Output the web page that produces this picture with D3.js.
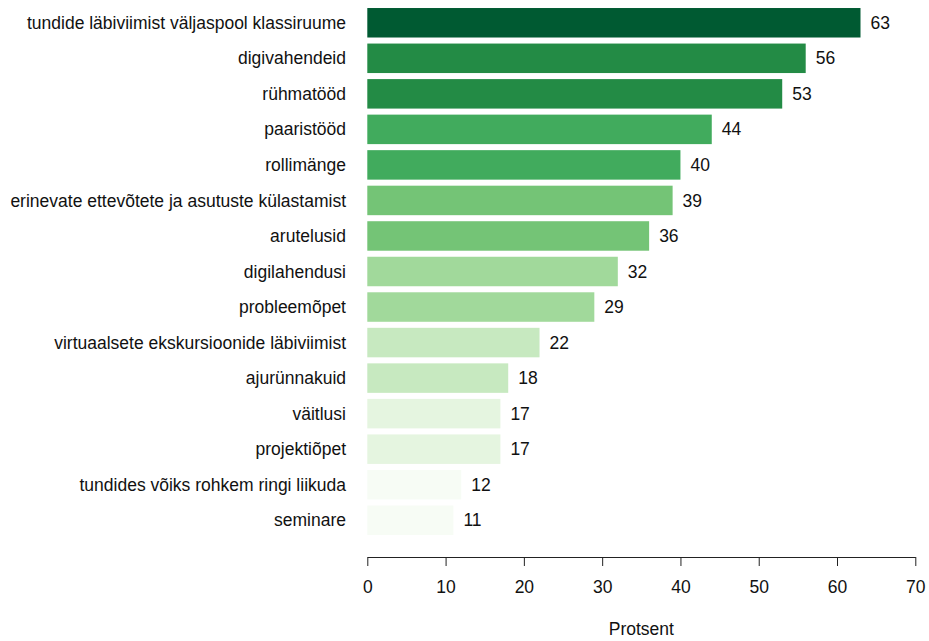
<!DOCTYPE html>
<html>
<head>
<meta charset="utf-8">
<script src="https://cdn.jsdelivr.net/npm/d3@7"></script>
<style>
  body { margin: 0; background: #fff; }
  text { font-family: "Liberation Sans", Arial, sans-serif; fill: #111; }
</style>
</head>
<body>
<svg width="929" height="641"></svg>
<script>
// data
var categories = ["tundide läbiviimist väljaspool klassiruume", "digivahendeid", "rühmatööd",
  "paaristööd", "rollimänge", "erinevate ettevõtete ja asutuste külastamist", "arutelusid",
  "digilahendusi", "probleemõpet", "virtuaalsete ekskursioonide läbiviimist", "ajurünnakuid",
  "väitlusi", "projektiõpet", "tundides võiks rohkem ringi liikuda", "seminare"];
var values = [63, 56, 53, 44, 40, 39, 36, 32, 29, 22, 18, 17, 17, 12, 11];
var xTicks = [0, 10, 20, 30, 40, 50, 60, 70];
var palette = ["#f7fcf5", "#e5f5e0", "#c7e9c0", "#a1d99b", "#74c476", "#41ab5d", "#238b45", "#005a32"];
var colourGroup = [7, 6, 6, 5, 5, 4, 4, 3, 3, 2, 2, 1, 1, 0, 0];

var data = categories.map(function(c, i) {
  return { nimi: c, v: values[i], col: palette[colourGroup[i]] };
});

var svg = d3.select("svg");
var plotLeft = 367.3, plotRight = 915.3, plotTop = 5, plotBottom = 538;
var fs = "17.5px";

var x = d3.scaleLinear().domain([0, 70]).range([plotLeft, plotRight]);
var y = d3.scaleBand().domain(categories).range([plotTop, plotBottom]).paddingInner(0.17).paddingOuter(0.085);

// bars
svg.selectAll(".bar")
  .data(data)
  .enter().append("rect")
    .attr("class", "bar")
    .attr("x", x(0))
    .attr("y", function(d) { return y(d.nimi); })
    .attr("width", function(d) { return x(d.v) - x(0); })
    .attr("height", y.bandwidth())
    .attr("fill", function(d) { return d.col; });

// value labels
svg.selectAll(".val")
  .data(data)
  .enter().append("text")
    .attr("class", "val")
    .attr("x", function(d) { return x(d.v) + 10; })
    .attr("y", function(d) { return y(d.nimi) + y.bandwidth() / 2; })
    .attr("dy", "0.35em")
    .style("font-size", fs)
    .text(function(d) { return d.v; });

// category labels
svg.selectAll(".cat")
  .data(data)
  .enter().append("text")
    .attr("class", "cat")
    .attr("x", 346)
    .attr("y", function(d) { return y(d.nimi) + y.bandwidth() / 2; })
    .attr("dy", "0.35em")
    .attr("text-anchor", "end")
    .style("font-size", fs)
    .text(function(d) { return d.nimi; });

// x axis
var ax = svg.append("g")
  .attr("transform", "translate(0,557)")
  .call(d3.axisBottom(x).tickValues(xTicks).tickSize(9).tickPadding(15).tickSizeOuter(0));
ax.select(".domain").attr("stroke", "#222");
ax.selectAll(".tick line").attr("stroke", "#222");
ax.selectAll("text").style("font-size", fs).attr("fill", "#111")
  .style("font-family", "'Liberation Sans', Arial, sans-serif");

svg.append("text")
  .attr("x", (plotLeft + plotRight) / 2)
  .attr("y", 635)
  .attr("text-anchor", "middle")
  .style("font-size", fs)
  .text("Protsent");
</script>
</body>
</html>
